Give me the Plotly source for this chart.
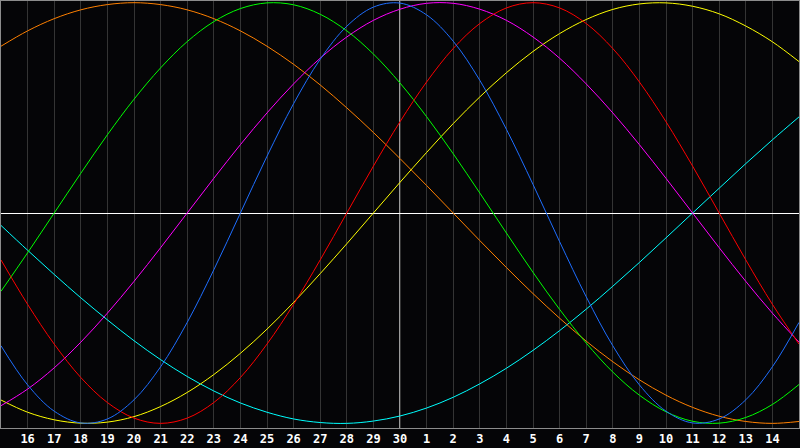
import plotly.graph_objects as go

day_labels = ["15", "16", "17", "18", "19", "20", "21", "22", "23", "24", "25", "26", "27", "28", "29", "30",
              "1", "2", "3", "4", "5", "6", "7", "8", "9", "10", "11", "12", "13", "14", "15"]
day_index = list(range(31))

physical = [-0.631, -0.817, -0.942, -0.998, -0.979, -0.888, -0.731, -0.520, -0.270, 0.000, 0.270, 0.520, 0.731, 0.888, 0.979, 0.998,
            0.942, 0.817, 0.631, 0.398, 0.136, -0.136, -0.398, -0.631, -0.817, -0.942, -0.998, -0.979, -0.888, -0.731, -0.520]
emotional = [-0.223, -0.434, -0.623, -0.782, -0.901, -0.975, -1.000, -0.975, -0.901, -0.782, -0.623, -0.434, -0.223, 0.000, 0.223, 0.434,
             0.623, 0.782, 0.901, 0.975, 1.000, 0.975, 0.901, 0.782, 0.623, 0.434, 0.223, 0.000, -0.223, -0.434, -0.623]
intellectual = [-0.372, -0.189, 0.000, 0.189, 0.372, 0.541, 0.690, 0.815, 0.910, 0.972, 0.999, 0.990, 0.945, 0.866, 0.756, 0.618,
                0.458, 0.282, 0.095, -0.095, -0.282, -0.458, -0.618, -0.756, -0.866, -0.945, -0.990, -0.999, -0.972, -0.910, -0.815]
intuitive = [-0.916, -0.837, -0.736, -0.614, -0.476, -0.325, -0.165, 0.000, 0.165, 0.325, 0.476, 0.614, 0.736, 0.837, 0.916, 0.969,
             0.997, 0.997, 0.969, 0.916, 0.837, 0.736, 0.614, 0.476, 0.325, 0.165, 0.000, -0.165, -0.325, -0.476, -0.614]
aesthetic = [-0.889, -0.947, -0.983, -0.999, -0.994, -0.968, -0.920, -0.853, -0.768, -0.667, -0.552, -0.425, -0.288, -0.146, 0.000, 0.146,
             0.288, 0.425, 0.552, 0.667, 0.768, 0.853, 0.920, 0.968, 0.994, 0.999, 0.983, 0.947, 0.889, 0.814, 0.720]
awareness = [0.793, 0.866, 0.924, 0.966, 0.991, 1.000, 0.991, 0.966, 0.924, 0.866, 0.793, 0.707, 0.609, 0.500, 0.383, 0.259,
             0.131, 0.000, -0.131, -0.259, -0.383, -0.500, -0.609, -0.707, -0.793, -0.866, -0.924, -0.966, -0.991, -1.000, -0.991]
spiritual = [-0.059, -0.177, -0.292, -0.403, -0.508, -0.607, -0.697, -0.777, -0.846, -0.903, -0.947, -0.979, -0.996, -1.000, -0.989, -0.965,
             -0.927, -0.876, -0.812, -0.738, -0.653, -0.559, -0.457, -0.348, -0.235, -0.118, 0.000, 0.118, 0.235, 0.348, 0.457]

series = [
    ("Spiritual", spiritual, "#00FFFF"),
    ("Awareness", awareness, "#FF8000"),
    ("Aesthetic", aesthetic, "#FFFF00"),
    ("Intuitive", intuitive, "#FF00FF"),
    ("Intellectual", intellectual, "#00FF00"),
    ("Emotional", emotional, "#FF0000"),
    ("Physical", physical, "#1E6EFF"),
]

fig = go.Figure()
for name, vals, color in series:
    fig.add_trace(go.Scatter(x=day_index, y=vals, mode="lines", name=name,
                             line=dict(color=color, width=1, shape="spline"),
                             hoverinfo="skip"))

fig.add_shape(type="line", xref="x", yref="paper", x0=15, x1=15, y0=0, y1=1,
              line=dict(color="#FFFFFF", width=1.2), layer="below")

fig.update_layout(
    width=800, height=448,
    margin=dict(l=1, r=1, t=1, b=20),
    paper_bgcolor="#050507",
    plot_bgcolor="#050507",
    showlegend=False,
    xaxis=dict(
        range=[0, 30],
        tickvals=day_index[1:30],
        ticktext=day_labels[1:30],
        showgrid=True, gridcolor="#343434", gridwidth=1,
        zeroline=False,
        showline=True, linecolor="#8C8C8C", linewidth=1, mirror=True,
        ticks="", ticklen=0,
        tickfont=dict(family="DejaVu Sans Mono", size=12, color="#FFFFFF", weight="bold"),
        fixedrange=True,
    ),
    yaxis=dict(
        range=[-1.022, 1.008],
        showgrid=False,
        zeroline=True, zerolinecolor="#FFFFFF", zerolinewidth=1.2,
        showticklabels=False,
        showline=True, linecolor="#8C8C8C", linewidth=1, mirror=True,
        fixedrange=True,
    ),
)

fig.write_html("out.html", config={"displayModeBar": False},
               post_script="document.body.style.margin='0px';document.body.style.overflow='hidden';document.body.style.background='#050507';")
